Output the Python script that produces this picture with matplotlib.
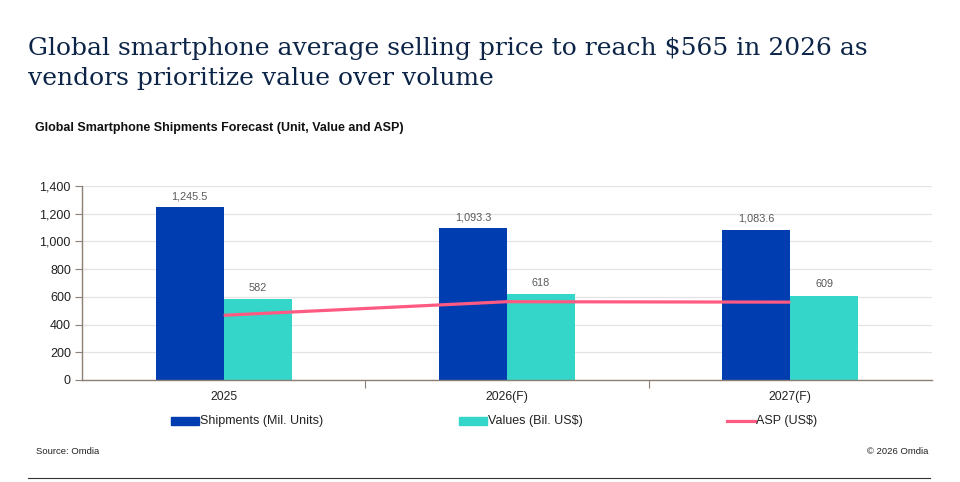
import matplotlib
matplotlib.use("Agg")
import matplotlib.pyplot as plt
import numpy as np
from matplotlib.patches import Patch
from matplotlib.lines import Line2D

categories = ["2025", "2026(F)", "2027(F)"]
shipments = [1245.5, 1093.3, 1083.6]
values = [582, 618, 609]
asp = [467, 565, 562]
ship_labels = ["1,245.5", "1,093.3", "1,083.6"]
value_labels = ["582", "618", "609"]
yticks = [0, 200, 400, 600, 800, 1000, 1200, 1400]

BLUE = "#003DB0"
TEAL = "#33D6C8"
PINK = "#FF5A82"
NAVY = "#0B2447"
SPINE = "#8C7F74"
narrow = ["Liberation Sans Narrow", "Liberation Sans", "DejaVu Sans"]

fig = plt.figure(figsize=(9.6, 4.82), dpi=100)
ax = fig.add_axes([82/960, 1-380/482, 850/960, 194/482])

x = np.arange(len(categories))
w = 0.24
ax.bar(x - w/2, shipments, width=w, color=BLUE, zorder=2)
ax.bar(x + w/2, values, width=w, color=TEAL, zorder=2)
ax.plot(x, asp, color=PINK, lw=2.3, zorder=3, solid_capstyle="butt")

for xi, v, lab in zip(x, shipments, ship_labels):
    ax.text(xi - w/2, v + 45, lab, ha="center", va="bottom", fontsize=7.8,
            color="#595959", family="Liberation Sans")
for xi, v, lab in zip(x, values, value_labels):
    ax.text(xi + w/2, v + 45, lab, ha="center", va="bottom", fontsize=7.8,
            color="#595959", family="Liberation Sans")

ax.set_xlim(-0.5, 2.5)
ax.set_ylim(0, 1400)
ax.set_yticks(yticks)
ax.set_yticklabels([f"{t:,}" for t in yticks], fontsize=9, family="Liberation Sans", color="#222222")
ax.yaxis.grid(True, color="#E3E3E3", lw=0.9, zorder=0)
ax.set_axisbelow(True)
ax.set_xticks([0.5, 1.5])
ax.set_xticklabels([])
ax.tick_params(axis="x", length=6, color=SPINE, width=0.8)
ax.tick_params(axis="y", length=5, color=SPINE, width=0.8, pad=3)
for s in ["top", "right"]:
    ax.spines[s].set_visible(False)
for s in ["left", "bottom"]:
    ax.spines[s].set_color(SPINE)
    ax.spines[s].set_linewidth(1.0)

for xi, c in zip(x, categories):
    ax.text(xi, -0.09, c, transform=ax.get_xaxis_transform(), ha="center", va="center",
            fontsize=8.8, family=narrow, color="#222222")

# legend
handles = [Patch(color=BLUE), Patch(color=TEAL), Line2D([], [], color=PINK, lw=2.3)]
labels = ["Shipments (Mil. Units)", "Values (Bil. US$)", "ASP (US$)"]
leg_x = [171, 459, 727]
for hx, h, lab in zip(leg_x, handles, labels):
    if isinstance(h, Patch):
        fig.patches.append(plt.Rectangle((hx/960, 1-425/482), 28/960, 8/482,
                                         transform=fig.transFigure, color=h.get_facecolor()))
    else:
        fig.lines.append(Line2D([hx/960, (hx+28)/960], [1-421/482, 1-421/482],
                                transform=fig.transFigure, color=PINK, lw=2.3))
    fig.text((hx+29)/960, 1-421/482, lab, ha="left", va="center", fontsize=9,
             family=narrow, color="#222222")

fig.text(28/960, 1-48/482, "Global smartphone average selling price to reach $565 in 2026 as",
         fontsize=18, family="DejaVu Serif", color=NAVY, va="center", ha="left")
fig.text(28/960, 1-78/482, "vendors prioritize value over volume",
         fontsize=18, family="DejaVu Serif", color=NAVY, va="center", ha="left")
fig.text(35/960, 1-128/482, "Global Smartphone Shipments Forecast (Unit, Value and ASP)",
         fontsize=9, family="Liberation Sans", weight="bold", color="#111111", va="center")
fig.text(36/960, 1-452/482, "Source: Omdia", fontsize=6.8, family="Liberation Sans",
         color="#222222", va="center")
fig.text(928/960, 1-452/482, "© 2026 Omdia", fontsize=6.8, family="Liberation Sans",
         color="#222222", va="center", ha="right")
fig.lines.append(Line2D([28/960, 930/960], [1-478/482, 1-478/482], transform=fig.transFigure,
                        color="#333333", lw=0.8))

fig.savefig("out.png", dpi=100)
